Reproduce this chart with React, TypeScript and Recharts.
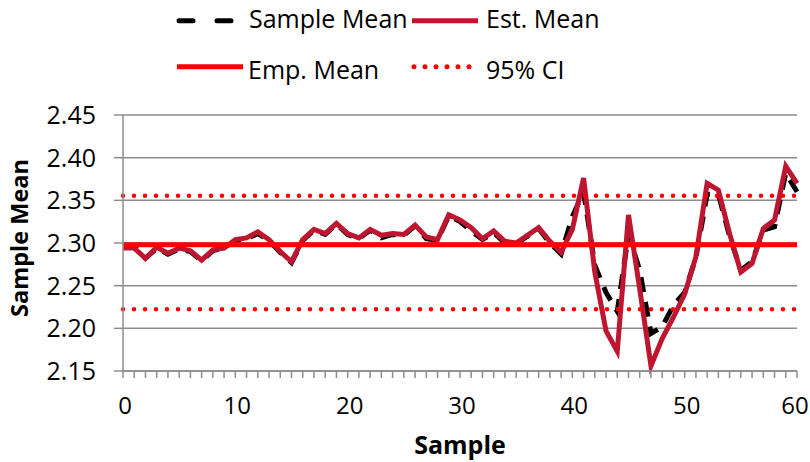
import React from 'react';
import { LineChart, Line, XAxis, YAxis, CartesianGrid } from 'recharts';

const samples = Array.from({ length: 61 }, (_, i) => i);

const sampleMean = [
  2.296, 2.296, 2.282, 2.294, 2.287, 2.293, 2.29, 2.279, 2.291, 2.294,
  2.303, 2.305, 2.311, 2.303, 2.289, 2.277, 2.303, 2.315, 2.31, 2.322,
  2.31, 2.305, 2.315, 2.306, 2.31, 2.309, 2.32, 2.305, 2.303, 2.332,
  2.325, 2.314, 2.304, 2.312, 2.3, 2.299, 2.308, 2.317, 2.3, 2.287,
  2.331, 2.36, 2.274, 2.242, 2.22, 2.31, 2.268, 2.194, 2.202, 2.227,
  2.242, 2.283, 2.357, 2.357, 2.308, 2.268, 2.278, 2.315, 2.319, 2.382,
  2.36,
];

const estMean = [
  2.294, 2.294, 2.282, 2.295, 2.288, 2.294, 2.291, 2.28, 2.292, 2.294,
  2.304, 2.306, 2.313, 2.304, 2.29, 2.278, 2.304, 2.316, 2.311, 2.323,
  2.311, 2.306, 2.316, 2.309, 2.311, 2.31, 2.321, 2.307, 2.304, 2.333,
  2.327, 2.318, 2.305, 2.314, 2.302, 2.3, 2.309, 2.318, 2.302, 2.289,
  2.316, 2.376, 2.266, 2.197, 2.173, 2.333, 2.246, 2.156, 2.188, 2.213,
  2.24, 2.284, 2.37, 2.362, 2.311, 2.266, 2.276, 2.317, 2.327, 2.39,
  2.37,
];

const empMean = 2.298;
const ciLower = 2.2225;
const ciUpper = 2.3555;

const xTicks = samples;
const yTicks = [2.15, 2.2, 2.25, 2.3, 2.35, 2.4, 2.45];

const data = samples.map((x, i) => ({
  x,
  sample: sampleMean[i],
  est: estMean[i],
  emp: empMean,
  lo: ciLower,
  hi: ciUpper,
}));

const FONT = '"Open Sans", sans-serif';
const AXIS_GRAY = '#8c8c8c';
const EST_RED = '#be1630';
const RED = '#ff0000';

// only every 10th sample gets a label, the rest are just tick marks
const XTick = ({ x, y, payload }: any) => {
  if (payload.value % 10 !== 0) return null;
  const shift = payload.value === 60 ? -2 : 2;
  return (
    <text x={x + shift} y={y} dy="0.71em" textAnchor="middle" fontSize={24} fontFamily={FONT} fill="#000">
      {payload.value}
    </text>
  );
};

const Legend = () => (
  <svg width={810} height={95} style={{ position: 'absolute', left: 0, top: 0 }}>
    <line x1={179} x2={233} y1={20.7} y2={20.7} stroke="#000" strokeWidth={5} strokeDasharray="14 24" strokeLinecap="round" />
    <text x={249} y={28.3} fontSize={25} fontFamily={FONT}>Sample Mean</text>
    <line x1={412} x2={478} y1={20.7} y2={20.7} stroke={EST_RED} strokeWidth={5} />
    <text x={486} y={28.3} fontSize={25} fontFamily={FONT}>Est. Mean</text>
    <line x1={177} x2={243} y1={66.7} y2={66.7} stroke={RED} strokeWidth={5} />
    <text x={248} y={79.3} fontSize={25} fontFamily={FONT}>Emp. Mean</text>
    <line x1={414} x2={470} y1={66.7} y2={66.7} stroke={RED} strokeWidth={5} strokeDasharray="0 11" strokeLinecap="round" />
    <text x={486} y={79.3} fontSize={25} fontFamily={FONT}>95% CI</text>
  </svg>
);

export default function App() {
  return (
    <div style={{ position: 'absolute', left: 0, top: 0, width: 810, height: 462, background: '#fff' }}>
      <LineChart
        width={810}
        height={462}
        data={data}
        margin={{ top: 115, right: 13, bottom: 0, left: 0 }}
        style={{ position: 'absolute', left: 0, top: 0 }}
      >
        <CartesianGrid vertical={false} stroke={AXIS_GRAY} strokeWidth={1.5} />
        <XAxis
          dataKey="x"
          type="number"
          domain={[0, 60]}
          ticks={xTicks}
          interval={0}
          height={91}
          tick={<XTick />}
          tickSize={7}
          tickMargin={19}
          stroke={AXIS_GRAY}
          strokeWidth={1.5}
          label={{
            content: () => (
              <text x={460} y={454} textAnchor="middle" fontSize={25} fontWeight="bold" fontFamily={FONT}>
                Sample
              </text>
            ),
          }}
        />
        <YAxis
          type="number"
          domain={[2.15, 2.45]}
          ticks={yTicks}
          interval={0}
          width={123}
          tickFormatter={(v: number) => v.toFixed(2)}
          tick={{ fontSize: 25, fontFamily: FONT, fill: '#000' }}
          tickSize={9}
          tickMargin={18}
          stroke={AXIS_GRAY}
          strokeWidth={1.5}
          label={{
            content: () => (
              <text
                x={28}
                y={238}
                transform="rotate(-90 28 238)"
                textAnchor="middle"
                fontSize={23.5}
                fontWeight="bold"
                fontFamily={FONT}
              >
                Sample Mean
              </text>
            ),
          }}
        />
        <Line dataKey="sample" stroke="#000" strokeWidth={5} strokeDasharray="15 10" dot={false} isAnimationActive={false} />
        <Line dataKey="est" stroke={EST_RED} strokeWidth={5} dot={false} isAnimationActive={false} />
        <Line dataKey="emp" stroke={RED} strokeWidth={5} dot={false} isAnimationActive={false} />
        <Line dataKey="hi" stroke={RED} strokeWidth={4.5} strokeDasharray="0 11" strokeLinecap="round" dot={false} isAnimationActive={false} />
        <Line dataKey="lo" stroke={RED} strokeWidth={4.5} strokeDasharray="0 11" strokeLinecap="round" dot={false} isAnimationActive={false} />
      </LineChart>
      <Legend />
    </div>
  );
}
